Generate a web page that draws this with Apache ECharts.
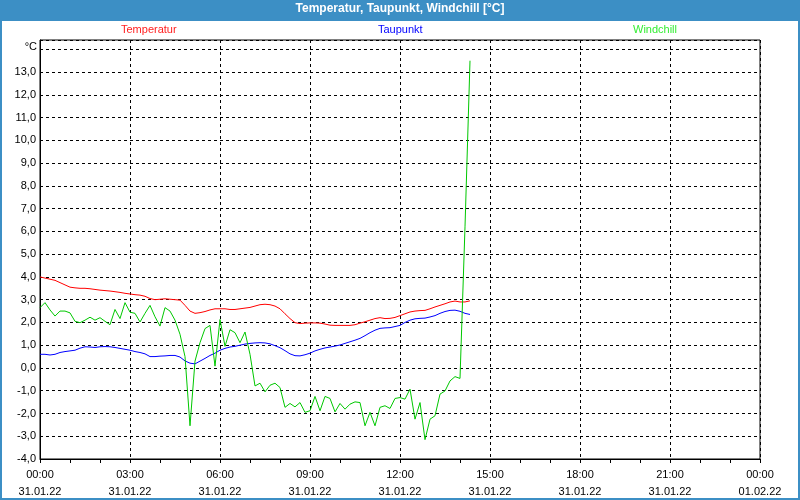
<!DOCTYPE html>
<html>
<head>
<meta charset="utf-8">
<script src="https://cdn.jsdelivr.net/npm/echarts@6/dist/echarts.min.js"></script>
<style>html,body{margin:0;padding:0;background:#fff;}#c{width:800px;height:500px;}</style>
</head>
<body>
<div id="c"></div>
<script>
// sampling: every 10 minutes from 00:00 to 14:20 on 31.01.22
var startTime = '00:00';
var stepMinutes = 10;
var temperatur = [
  4.0, 3.95, 3.9, 3.85, 3.75, 3.65, 3.55, 3.52, 3.5, 3.5,
  3.48, 3.45, 3.42, 3.4, 3.38, 3.35, 3.32, 3.28, 3.25, 3.22,
  3.2, 3.15, 3.05, 3.0, 3.02, 3.04, 3.02, 3.0, 2.98, 2.75,
  2.5, 2.4, 2.43, 2.48, 2.55, 2.6, 2.6, 2.6, 2.57, 2.57,
  2.6, 2.63, 2.66, 2.72, 2.78, 2.8, 2.78, 2.72, 2.6, 2.38,
  2.17, 1.99, 1.95, 1.97, 1.98, 1.98, 1.97, 1.93, 1.88, 1.87,
  1.87, 1.87, 1.87, 1.9, 1.97, 2.03, 2.1, 2.17, 2.21, 2.17,
  2.18, 2.22, 2.3, 2.38, 2.46, 2.5, 2.52, 2.53, 2.6, 2.68,
  2.75, 2.82, 2.9, 2.94, 2.9, 2.9, 2.95
];
var taupunkt = [
  0.6, 0.6, 0.57, 0.6, 0.68, 0.72, 0.75, 0.78, 0.87, 0.93,
  0.92, 0.9, 0.93, 0.94, 0.93, 0.9, 0.86, 0.82, 0.78, 0.72,
  0.68, 0.62, 0.5, 0.5, 0.52, 0.53, 0.55, 0.55, 0.48, 0.31,
  0.21, 0.18, 0.3, 0.42, 0.55, 0.65, 0.78, 0.86, 0.92, 0.95,
  1.0, 1.05, 1.08, 1.1, 1.11, 1.1, 1.06, 0.98, 0.89, 0.76,
  0.62, 0.54, 0.53, 0.58, 0.65, 0.75, 0.82, 0.88, 0.92, 0.96,
  1.01, 1.08, 1.15, 1.22, 1.3, 1.42, 1.55, 1.66, 1.74, 1.76,
  1.77, 1.82, 1.87, 2.0, 2.1, 2.16, 2.18, 2.19, 2.24, 2.3,
  2.4, 2.48, 2.53, 2.54, 2.49, 2.4, 2.35
];
var windchill = [
  2.65, 2.87, 2.55, 2.28, 2.5, 2.5, 2.42, 2.05, 1.99, 2.1,
  2.23, 2.1, 2.21, 2.05, 1.9, 2.57, 2.17, 2.87, 2.45, 2.4,
  2.02, 2.4, 2.75, 2.25, 1.84, 2.65, 2.5, 2.1, 1.48, 0.5,
  -2.54, 0.3, 1.11, 1.73, 1.87, 0.08, 2.13, 0.95, 1.68, 1.55,
  1.11, 1.58, 0.6, -0.79, -0.67, -1.05, -0.76, -0.67, -0.86, -1.73,
  -1.56, -1.71, -1.52, -1.95, -1.88, -1.25, -1.88, -1.25, -1.34, -1.93,
  -1.56, -1.81, -1.59, -1.49, -1.52, -2.54, -1.95, -2.54, -1.73, -1.66,
  -1.78, -1.34, -1.3, -1.37, -0.93, -2.25, -1.52, -3.15, -2.25, -2.1,
  -1.15, -1.01, -0.57, -0.38, -0.46, 6.2, 13.5
];
var xTickTimes = ['00:00','03:00','06:00','09:00','12:00','15:00','18:00','21:00','00:00'];
var xTickDates = ['31.01.22','31.01.22','31.01.22','31.01.22','31.01.22','31.01.22','31.01.22','31.01.22','01.02.22'];
var seriesNames = ['Temperatur', 'Taupunkt', 'Windchill'];
var seriesColors = ['#ff0000', '#0000ff', '#00c800'];
var legendColors = ['#ff2020', '#0000ff', '#33ee33'];

var startH = parseInt(startTime.split(':')[0], 10) + parseInt(startTime.split(':')[1], 10) / 60;
function toPairs(arr) {
  return arr.map(function (v, i) { return [startH + i * stepMinutes / 60, v]; });
}
var allData = [temperatur, taupunkt, windchill];

var FONT = '"Liberation Sans Narrow", "Liberation Sans", Arial, sans-serif';
var chart = echarts.init(document.getElementById('c'), null, {renderer: 'canvas'});
var option = {
  animation: false,
  backgroundColor: '#ffffff',
  title: {
    text: 'Temperatur, Taupunkt, Windchill [°C]',
    left: 'center', top: 3, padding: 0,
    textStyle: {color: '#ffffff', fontSize: 12, fontWeight: 'bold', fontFamily: FONT}
  },
  graphic: [
    {type: 'rect', z: -10, silent: true, shape: {x: 0, y: 0, width: 800, height: 21}, style: {fill: '#3c8fc5'}},
    {type: 'rect', z: -10, silent: true, shape: {x: 1, y: 1, width: 798, height: 498}, style: {fill: null, stroke: '#3c8fc5', lineWidth: 2}}
  ],
  legend: seriesNames.map(function (n, i) {
    return {
      data: [n], left: [115, 372, 627][i], top: 24, padding: 0,
      itemWidth: 0, itemHeight: 0, itemGap: 0,
      itemStyle: {opacity: 0}, lineStyle: {opacity: 0},
      selectedMode: false,
      textStyle: {color: legendColors[i], fontSize: 11, fontFamily: FONT}
    };
  }),
  grid: {left: 40, right: 40, top: 40, bottom: 40, show: true, borderColor: '#000', borderWidth: 1, containLabel: false},
  xAxis: {
    type: 'value', min: 0, max: 24, interval: 3,
    axisLine: {show: true, onZero: false, lineStyle: {color: '#000', width: 1}},
    axisTick: {show: true, length: 4, inside: false, lineStyle: {color: '#000'}},
    minorTick: {show: true, splitNumber: 3, length: 4, lineStyle: {color: '#000'}},
    splitLine: {show: true, lineStyle: {color: '#000', type: [3, 3], width: 1}},
    axisLabel: {
      margin: 7, lineHeight: 17, color: '#000', fontSize: 11, fontFamily: FONT,
      formatter: function (v) {
        var k = Math.round(v / 3);
        return xTickTimes[k] + '\n' + xTickDates[k];
      }
    }
  },
  yAxis: {
    type: 'value', min: -4, max: 14.41, interval: 1,
    name: '°C', nameLocation: 'end', nameGap: -7,
    nameTextStyle: {align: 'right', verticalAlign: 'middle', padding: [0, 3, 0, 0], color: '#000', fontSize: 11, fontFamily: FONT},
    axisLine: {show: true, lineStyle: {color: '#000', width: 1}},
    axisTick: {show: false},
    splitLine: {show: true, lineStyle: {color: '#000', type: [3, 3], width: 1}},
    axisLabel: {
      margin: 4, color: '#000', fontSize: 11, fontFamily: FONT,
      formatter: function (v) {
        if (Math.abs(v - Math.round(v)) > 1e-6 || v > 13.5) return '';
        return v.toFixed(1).replace('.', ',');
      }
    }
  },
  series: seriesNames.map(function (n, i) {
    return {
      name: n, type: 'line', data: toPairs(allData[i]),
      showSymbol: false, symbol: 'none', color: seriesColors[i],
      lineStyle: {color: seriesColors[i], width: 1}, z: 3 + i
    };
  })
};
chart.setOption(option);
</script>
</body>
</html>
